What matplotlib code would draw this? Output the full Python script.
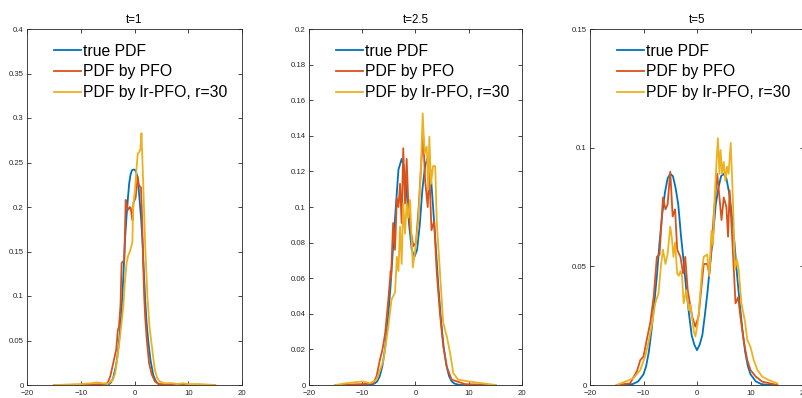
import numpy as np
import matplotlib
matplotlib.use("Agg")
import matplotlib.pyplot as plt

plt.rcParams['font.family'] = ['Liberation Sans', 'DejaVu Sans']

# ---- t=1 ----
x1_true = [-15, -5, -4.5, -4, -3.5, -3.25, -3, -2.75, -2.5, -2.25, -2, -1.75, -1.5, -1.25, -1, -0.75, -0.5,
           -0.25, 0, 0.25, 0.5, 0.75, 1, 1.25, 1.5, 1.75, 2, 2.25, 2.5, 2.75, 3, 3.5, 4, 4.5, 5, 15]
y1_true = [0, 0.0002, 0.002, 0.007, 0.02, 0.029, 0.042, 0.057, 0.076, 0.1, 0.132, 0.165, 0.188, 0.208, 0.226,
           0.236, 0.241, 0.242, 0.242, 0.24, 0.235, 0.223, 0.204, 0.185, 0.16, 0.126, 0.095, 0.07, 0.053, 0.039,
           0.027, 0.011, 0.004, 0.001, 0.0002, 0]
x1_pfo = [-15, -8, -6, -5, -4.5, -3.94, -3.4, -3.1, -2.9, -2.6, -2.4, -2.1, -1.9, -1.64, -1.4, -1.15, -0.9, -0.7,
          -0.5, -0.35, -0.2, 0.2, 0.45, 0.6, 0.8, 1.0, 1.2, 1.4, 1.6, 1.8, 2.0, 2.3, 2.7, 3.2, 3.8, 4.5, 8, 15]
y1_pfo = [0, 0.0005, 0.001, 0.002, 0.01, 0.025, 0.04, 0.062, 0.065, 0.09, 0.137, 0.139, 0.14, 0.208, 0.2, 0.197,
          0.2, 0.199, 0.19, 0.185, 0.205, 0.21, 0.225, 0.234, 0.225, 0.223, 0.222, 0.19, 0.14, 0.1, 0.075, 0.05,
          0.025, 0.012, 0.004, 0.001, 0.0005, 0]
x1_lr = [-15, -12, -10, -8, -7, -6, -5, -4.6, -4.0, -3.6, -3.2, -2.7, -2.4, -2.08, -1.8, -1.47, -1.2, -0.85, -0.4,
         -0.25, 0.1, 0.4, 0.6, 0.9, 1.1, 1.3, 1.6, 2.0, 2.4, 2.8, 3.2, 3.5, 3.8, 4.2, 4.7, 5.5, 7, 8, 9, 10, 12, 15]
y1_lr = [0, 0.0005, 0.001, 0.002, 0.003, 0.002, 0.001, 0.003, 0.006, 0.013, 0.03, 0.054, 0.07, 0.088, 0.115,
         0.137, 0.145, 0.15, 0.16, 0.2, 0.22, 0.245, 0.26, 0.262, 0.265, 0.283, 0.23, 0.155, 0.1, 0.065, 0.045,
         0.03, 0.017, 0.008, 0.004, 0.002, 0.002, 0.001, 0.002, 0.001, 0.001, 0]

# ---- t=2.5 ----
x2_true = [-15, -8.7, -7.7, -7.2, -6.7, -6.2, -5.7, -5.2, -4.7, -4.2, -3.7, -3.2, -2.6, -2.2, -1.7, -1.2, -0.7,
           -0.2, 0.3, 0.8, 1.3, 1.8, 2.2, 2.8, 3.3, 3.8, 4.3, 4.8, 5.3, 5.8, 6.3, 6.8, 7.3, 8.3, 15]
y2_true = [0, 0, 0.0008, 0.002, 0.005, 0.011, 0.021, 0.036, 0.055, 0.078, 0.1, 0.121, 0.127, 0.123, 0.11, 0.09,
           0.076, 0.072, 0.076, 0.09, 0.11, 0.123, 0.127, 0.121, 0.1, 0.078, 0.055, 0.036, 0.021, 0.011, 0.005,
           0.002, 0.0008, 0, 0]
x2_pfo = [-15, -10, -7.9, -7.3, -6.7, -6.2, -5.7, -5.1, -4.66, -4.6, -4.2, -3.85, -3.5, -3.2, -2.9, -2.6, -2.3,
          -1.97, -1.66, -1.35, -1.03, -0.4, 0.1, 0.6, 1.15, 1.47, 1.8, 2.3, 2.5, 2.6, 3.0, 3.5, 4.0, 4.6, 5.2, 5.9,
          6.8, 9.3, 15]
y2_pfo = [0, 0.0005, 0.001, 0.005, 0.014, 0.02, 0.029, 0.048, 0.064, 0.06, 0.091, 0.076, 0.105, 0.1, 0.113,
          0.091, 0.133, 0.102, 0.127, 0.102, 0.089, 0.078, 0.08, 0.1, 0.128, 0.1395, 0.115, 0.1, 0.115, 0.119,
          0.087, 0.092, 0.063, 0.04, 0.022, 0.01, 0.003, 0.0005, 0]
x2_lr = [-15, -13, -10, -8.5, -7.3, -6.0, -5.1, -4.5, -3.85, -3.5, -3.2, -2.9, -2.6, -2.3, -1.97, -1.66, -1.35,
         -1.03, -0.5, -0.1, 0.5, 1.0, 1.35, 1.7, 2.1, 2.4, 2.6, 2.9, 3.3, 3.5, 3.7, 4.0, 4.6, 5.2, 5.9, 6.5, 7.1,
         8.0, 10, 15]
y2_lr = [0, 0.001, 0.002, 0.001, 0.003, 0.014, 0.033, 0.048, 0.052, 0.072, 0.064, 0.089, 0.068, 0.102, 0.085,
         0.102, 0.094, 0.104, 0.066, 0.075, 0.091, 0.12, 0.1526, 0.13, 0.134, 0.11, 0.1395, 0.113, 0.123, 0.123,
         0.123, 0.091, 0.063, 0.035, 0.027, 0.018, 0.0066, 0.003, 0.002, 0]

# ---- t=5 ----
x3_true = [-15, -14.5, -13, -12, -11, -10, -9.5, -9, -8.5, -8, -7.5, -7, -6.5, -6, -5.5, -5, -4.5, -4, -3.5, -3,
           -2.5, -2, -1.5, -1, -0.5, 0, 0.5, 1, 1.5, 2, 2.5, 3, 3.5, 4, 4.5, 5, 5.5, 6, 6.5, 7, 7.5, 8, 8.5, 9,
           9.5, 10, 11, 12, 13, 14.5, 15]
y3_true = [0, 0, 0.0001, 0.0004, 0.0015, 0.0045, 0.008, 0.014, 0.023, 0.034, 0.046, 0.06, 0.072, 0.081, 0.087,
           0.089, 0.088, 0.083, 0.076, 0.063, 0.052, 0.04, 0.03, 0.021, 0.017, 0.0147, 0.017, 0.021, 0.03, 0.04,
           0.052, 0.063, 0.076, 0.083, 0.088, 0.089, 0.087, 0.081, 0.072, 0.06, 0.046, 0.034, 0.023, 0.014, 0.008,
           0.0045, 0.0015, 0.0004, 0.0001, 0, 0]
x3_pfo = [-15, -12.5, -11.2, -10.6, -10, -9.4, -8.75, -8.1, -7.5, -7.0, -6.36, -5.9, -5.5, -5.0, -4.55, -4.1,
          -3.7, -3.1, -2.6, -2.2, -1.74, -0.9, -0.3, 0.3, 0.64, 1.26, 1.9, 2.3, 2.83, 3.1, 3.77, 4.2, 4.58, 5.0,
          5.5, 5.8, 6.1, 6.6, 7.2, 7.7, 8.1, 8.8, 9.4, 10.0, 11, 12.2, 15]
y3_pfo = [0, 0.0007, 0.006, 0.0105, 0.012, 0.019, 0.026, 0.037, 0.054, 0.055, 0.079, 0.074, 0.076, 0.0899,
          0.071, 0.074, 0.057, 0.054, 0.047, 0.054, 0.04, 0.0288, 0.0246, 0.029, 0.037, 0.051, 0.051, 0.047,
          0.061, 0.071, 0.089, 0.079, 0.0695, 0.079, 0.075, 0.0625, 0.082, 0.061, 0.0344, 0.037, 0.029, 0.0176,
          0.0105, 0.0063, 0.0035, 0.0014, 0]
x3_lr = [-15, -11.9, -10.6, -9.7, -9.1, -8.4, -7.8, -7.2, -6.7, -6.36, -5.9, -5.5, -5.0, -4.7, -4.4, -4.1, -3.7,
         -3.4, -3.1, -2.8, -2.5, -2.0, -1.55, -1.24, -0.62, -0.3, 0.12, 0.32, 0.95, 1.26, 1.9, 2.3, 2.7, 3.0, 3.3,
         3.55, 3.9, 4.2, 4.4, 4.7, 5.0, 5.3, 5.6, 5.9, 6.3, 6.7, 7.1, 7.45, 7.8, 8.3, 8.95, 9.4, 10.0, 10.6, 11.3,
         12.2, 13.5, 15]
y3_lr = [0, 0.0028, 0.0063, 0.012, 0.0176, 0.026, 0.0344, 0.0386, 0.051, 0.057, 0.051, 0.055, 0.0667, 0.062,
         0.054, 0.06, 0.047, 0.046, 0.048, 0.046, 0.0344, 0.04, 0.0316, 0.034, 0.023, 0.0204, 0.026, 0.03, 0.0485,
         0.054, 0.055, 0.046, 0.065, 0.059, 0.079, 0.09, 0.104, 0.089, 0.099, 0.089, 0.094, 0.086, 0.092, 0.089,
         0.102, 0.079, 0.0485, 0.053, 0.0485, 0.0344, 0.027, 0.019, 0.016, 0.0105, 0.0063, 0.0035, 0.002, 0.0007]

titles = ['t=1', 't=2.5', 't=5']
labels = ['true PDF', 'PDF by PFO', 'PDF by lr-PFO, r=30']
ylims = [0.4, 0.2, 0.15]
ysteps = [0.05, 0.02, 0.05]
colors = ['#0072BD', '#D95319', '#EDB120']
data = [(x1_true, y1_true, x1_pfo, y1_pfo, x1_lr, y1_lr),
        (x2_true, y2_true, x2_pfo, y2_pfo, x2_lr, y2_lr),
        (x3_true, y3_true, x3_pfo, y3_pfo, x3_lr, y3_lr)]

W, H = 803, 398
fig = plt.figure(figsize=(W / 100, H / 100), dpi=100)
lefts = [27, 309, 590]
widths = [215, 213, 214]
top, bottom = 29, 385
axcol = '#262626'

for i in range(3):
    ax = fig.add_axes([lefts[i] / W, (H - bottom) / H, widths[i] / W, (bottom - top) / H])
    d = data[i]
    for k in range(3):
        ax.plot(d[2 * k], d[2 * k + 1], color=colors[k], lw=1.3, label=labels[k])
    ax.set_xlim(-20, 20)
    ax.set_ylim(0, ylims[i])
    ax.set_xticks([-20, -10, 0, 10, 20])
    yt = np.round(np.arange(0, ylims[i] + 1e-9, ysteps[i]), 4)
    ax.set_yticks(yt)
    ax.set_yticklabels(['%g' % v for v in yt])
    ax.tick_params(direction='in', length=3, width=0.6, top=True, right=True,
                   labelsize=5.6, colors=axcol, pad=2.3)
    ax.tick_params(axis='x', pad=3.5)
    for s in ax.spines.values():
        s.set_color(axcol)
        s.set_linewidth(0.6)
    ax.set_title(titles[i], fontsize=8.3, color='black', pad=4)
    ax.legend(loc='upper left', bbox_to_anchor=(27 / widths[i], 1 - 14.5 / 356), frameon=False,
              fontsize=11.3, handlelength=1.72, handletextpad=0.15, labelspacing=0.38, borderpad=0,
              borderaxespad=0)

plt.savefig('out.png', dpi=100)
